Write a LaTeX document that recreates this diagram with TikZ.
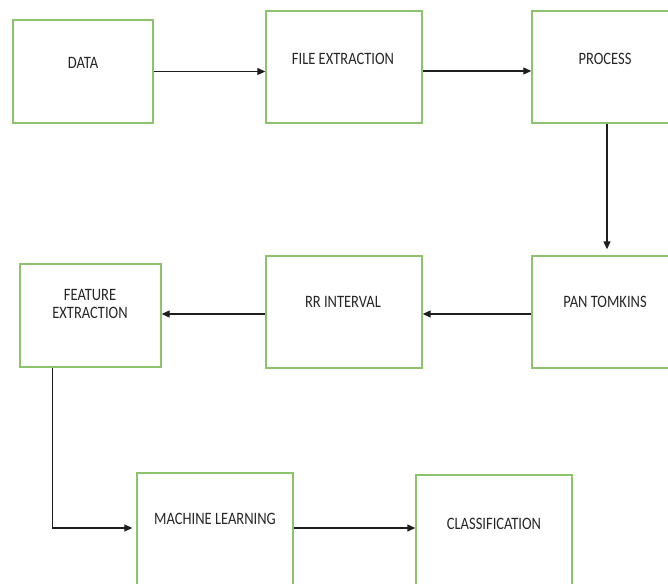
\documentclass[tikz,border=0pt]{standalone}
\usepackage{fontspec}
\setmainfont{Carlito}
\usetikzlibrary{arrows.meta, positioning, calc}
\definecolor{cbox}{HTML}{8CC46C}
\definecolor{cline}{HTML}{1E1E1E}
\begin{document}
\begin{tikzpicture}[
    x=1pt, y=1pt,
    font=\fontsize{14.5}{15}\selectfont,
    stage/.style={
        rectangle, draw=cbox, line width=1.4pt, inner sep=0pt
    },
    lbl/.style={text=black!85, align=center, inner sep=0pt, yscale=1.2, transform shape},
    arr/.style={-{Triangle[length=8pt,width=7pt]}, draw=cline, line width=1.2pt}
]
\useasboundingbox (0,0) rectangle (668,583);
\clip (0,0) rectangle (668,583);

\node[stage, minimum width=140pt, minimum height=103pt] (data)    at (83,511.5) {};
\node[stage, minimum width=156pt, minimum height=112pt] (file)    at (344,516)  {};
\node[stage, minimum width=150pt, minimum height=112pt] (process) at (607,516)  {};
\node[stage, minimum width=150pt, minimum height=112pt] (pan)     at (607,271)  {};
\node[stage, minimum width=156pt, minimum height=112pt] (rr)      at (344,271)  {};
\node[stage, minimum width=141pt, minimum height=103pt] (feature) at (90.5,267.5) {};
\node[stage, minimum width=156pt, minimum height=118pt] (ml)      at (215,51)   {};
\node[stage, minimum width=156pt, minimum height=116pt] (class)   at (494,50)   {};

\node[lbl] (tdata)    at (83,520)  {DATA};
\node[lbl] (tfile)    at (343,524) {FILE EXTRACTION};
\node[lbl] (tprocess) at (605,524) {PROCESS};
\node[lbl] (tpan)     at (605,281) {PAN TOMKINS};
\node[lbl] (trr)      at (343,281) {RR INTERVAL};
\node[lbl] (tfeature) at (90,279)  {FEATURE\\EXTRACTION};
\node[lbl] (tml)      at (215,64)  {MACHINE LEARNING};
\node[lbl] (tclass)   at (494,59)  {CLASSIFICATION};

\draw[arr] (data.east) -- (data.east -| file.west);
\draw[arr] ([yshift=-4pt]file.east) -- ([yshift=-4pt]file.east -| process.west);
\draw[arr] (process) -- ([yshift=6pt]pan.north);
\draw[arr] ([yshift=-2pt]pan.west) -- ([yshift=-2pt]pan.west -| rr.east);
\draw[arr] ([yshift=-2pt]rr.west) -- ([yshift=-2pt]rr.west -| feature.east);
\draw[arr, shorten >=4pt] ([xshift=-38pt]feature.south) |- ([yshift=4pt]ml.west);
\draw[arr] ([yshift=4pt]ml.east) -- ([yshift=4pt]ml.east -| class.west);
\end{tikzpicture}
\end{document}
